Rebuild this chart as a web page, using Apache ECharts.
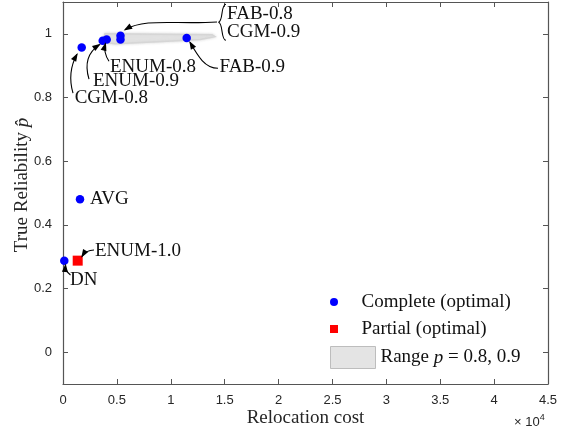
<!DOCTYPE html>
<html>
<head>
<meta charset="utf-8">
<script src="https://cdn.jsdelivr.net/npm/echarts@6/dist/echarts.min.js"></script>
<style>
html, body { margin: 0; padding: 0; background: #fff; }
#chart { width: 568px; height: 439px; }
</style>
</head>
<body>
<div id="chart"></div>
<script>
// data
var completeNames = ['CGM-0.8', 'ENUM-0.9', 'ENUM-0.8', 'FAB-0.8', 'CGM-0.9', 'FAB-0.9', 'AVG', 'DN'];
var completeCost = [1735, 3683, 4055, 5335, 5335, 11477, 1577, 120];
var completeRel = [0.957, 0.978, 0.982, 0.994, 0.982, 0.987, 0.480, 0.2875];

var partialNames = ['ENUM-1.0'];
var partialCost = [1364];
var partialRel = [0.2875];

// outline of the shaded p = 0.8, 0.9 region
var rangeCost = [3897, 13825, 14103, 12711, 8722, 4825, 3711];
var rangeRel = [1.0006, 0.9975, 0.991, 0.982, 0.9755, 0.969, 0.974];

var yTicks = [0, 0.2, 0.4, 0.6, 0.8, 1];

var SERIF = '"Liberation Serif", "Times New Roman", serif';
var SANS = '"Liberation Sans", Arial, sans-serif';
var AXIS = '#555';
var TXT = '#262626';
var RANGE_NAME = 'Range p = 0.8, 0.9';

function zip(a, b, names) {
	var out = [];
	for (var i = 0; i < a.length; i++) {
		var d = { value: [a[i], b[i]] };
		if (names) d.name = names[i];
		out.push(d);
	}
	return out;
}

var chart = echarts.init(document.getElementById('chart'));

var axisLine = { onZero: false, lineStyle: { color: AXIS, width: 1.2 } };
var tickIn = { inside: true, length: 5, lineStyle: { color: AXIS } };

var option = {
	animation: false,
	grid: { left: 63, right: 20, top: 2, bottom: 55, outerBoundsMode: 'none', containLabel: false },
	xAxis: [{
		type: 'value', position: 'bottom', min: 0, max: 45000, interval: 5000,
		axisLine: axisLine, axisTick: tickIn,
		axisLabel: { formatter: function (v) { return String(v / 10000); },
			color: TXT, fontFamily: SANS, fontSize: 13, margin: 10 },
		splitLine: { show: false },
		name: 'Relocation cost', nameLocation: 'middle', nameGap: 25, nameMoveOverlap: false,
		nameTextStyle: { fontFamily: SERIF, fontSize: 19, color: TXT }
	}, {
		type: 'value', position: 'top', min: 0, max: 45000, interval: 5000,
		axisLine: axisLine, axisTick: tickIn, axisLabel: { show: false },
		splitLine: { show: false }
	}],
	yAxis: [{
		type: 'value', position: 'left', min: -0.1, max: 1.1,
		axisLine: axisLine,
		axisTick: { inside: true, length: 5, lineStyle: { color: AXIS }, customValues: yTicks },
		axisLabel: { customValues: yTicks, color: TXT, fontFamily: SANS, fontSize: 13, margin: 11 },
		splitLine: { show: false },
		name: 'True Reliability {i|p\u0302}', nameLocation: 'middle', nameGap: 31, nameMoveOverlap: false,
		nameTextStyle: { fontFamily: SERIF, fontSize: 19, color: TXT, padding: [0, 0, 0, 16],
			rich: { i: { fontFamily: SERIF, fontSize: 19, fontStyle: 'italic', color: TXT } } }
	}, {
		type: 'value', position: 'right', min: -0.1, max: 1.1,
		axisLine: axisLine,
		axisTick: { inside: true, length: 5, lineStyle: { color: AXIS }, customValues: yTicks },
		axisLabel: { show: false },
		splitLine: { show: false }
	}],
	legend: [{
		orient: 'vertical', left: 330, top: 292, padding: 0,
		itemWidth: 45, itemHeight: 8, itemGap: 7, selectedMode: false,
		symbolKeepAspect: true,
		textStyle: { fontFamily: SERIF, fontSize: 19, color: '#111', lineHeight: 20 },
		data: [
			{ name: 'Complete (optimal)', icon: 'circle' },
			{ name: 'Partial (optimal)', icon: 'path://M0,0H10V10H0Z' }
		]
	}, {
		orient: 'vertical', left: 330, top: 346, padding: 0,
		itemWidth: 45, itemHeight: 22, selectedMode: false,
		textStyle: { fontFamily: SERIF, fontSize: 19, color: '#111',
			rich: { i: { fontFamily: SERIF, fontSize: 19, fontStyle: 'italic', color: '#111' } } },
		formatter: function () { return 'Range {i|p} = 0.8, 0.9'; },
		data: [{ name: RANGE_NAME, icon: 'rect', itemStyle: { color: '#e4e4e4', borderColor: '#bdbdbd', borderWidth: 1 } }]
	}],
	series: [{
		name: RANGE_NAME,
		type: 'custom',
		silent: true,
		itemStyle: { color: '#e4e4e4' },
		data: zip(rangeCost, rangeRel),
		renderItem: function (params, api) {
			if (params.dataIndex !== 0) return;
			var pts = [];
			for (var i = 0; i < rangeCost.length; i++) pts.push(api.coord([rangeCost[i], rangeRel[i]]));
			return {
				type: 'polygon',
				shape: { points: pts },
				style: { fill: '#e2e2e2', stroke: '#d6d6d6', lineWidth: 1.5, shadowBlur: 3, shadowColor: '#d8d8d8' }
			};
		}
	}, {
		name: 'Complete (optimal)',
		type: 'scatter',
		symbol: 'circle',
		symbolSize: 8.5,
		itemStyle: { color: '#0000ff', opacity: 1 },
		data: zip(completeCost, completeRel, completeNames)
	}, {
		name: 'Partial (optimal)',
		type: 'scatter',
		symbol: 'rect',
		symbolSize: 10,
		itemStyle: { color: '#ff0000', opacity: 1 },
		data: zip(partialCost, partialRel, partialNames)
	}]
};
chart.setOption(option);

// annotations, placed relative to the pixel position of their point
// tx,ty: text left/middle; c: arrow [start, ctrl1, (ctrl2), end]
var notes = [
	{ n: 'CGM-0.8', tx: -7, ty: 50.7, c: [[-8.7, 45.7], [-14.7, 24.7], [-4.7, 6.7]] },
	{ n: 'ENUM-0.9', tx: -9.7, ty: 40.3, c: [[-13.7, 38.3], [-20.7, 15.3], [-3.2, 3.8]] },
	{ n: 'ENUM-0.8', tx: 3.3, ty: 27.7, c: [[2.3, 21.7], [-3.7, 12.7], [-1.2, 4.2]] },
	{ n: 'FAB-0.9', tx: 32.8, ty: 29.3, c: [[31.3, 30.3], [18.3, 30.3], [11.3, 18.3], [3.3, 4.3]] },
	{ n: 'AVG', tx: 10, ty: 0 },
	{ n: 'DN', tx: 5.7, ty: 19.3, c: [[6.2, 14.3], [0.7, 10.3], [1.2, 4.3]] },
	{ n: 'ENUM-1.0', tx: 17.3, ty: -9.7, c: [[16.3, -10.7], [8.3, -10.7], [4.3, -4.2]] }
];

function pixelOf(name) {
	var i = completeNames.indexOf(name);
	if (i >= 0) return chart.convertToPixel({ xAxisIndex: 0, yAxisIndex: 0 }, [completeCost[i], completeRel[i]]);
	i = partialNames.indexOf(name);
	return chart.convertToPixel({ xAxisIndex: 0, yAxisIndex: 0 }, [partialCost[i], partialRel[i]]);
}

var FONT = '19px ' + SERIF;
var graphics = [];

function addText(x, y, text) {
	graphics.push({ type: 'text', x: x, y: y, z: 10,
		style: { text: text, font: FONT, fill: '#111', align: 'left', verticalAlign: 'middle' } });
}

function addArrow(p, c) {
	var pts = c.map(function (q) { return [p[0] + q[0], p[1] + q[1]]; });
	var shape = { x1: pts[0][0], y1: pts[0][1], x2: pts[pts.length - 1][0], y2: pts[pts.length - 1][1],
		cpx1: pts[1][0], cpy1: pts[1][1] };
	if (pts.length === 4) { shape.cpx2 = pts[2][0]; shape.cpy2 = pts[2][1]; }
	graphics.push({ type: 'bezierCurve', z: 10, shape: shape, style: { stroke: '#000', lineWidth: 1.1, fill: null } });
	var e = pts[pts.length - 1], b = pts[pts.length - 2];
	var dx = e[0] - b[0], dy = e[1] - b[1], L = Math.sqrt(dx * dx + dy * dy);
	dx /= L; dy /= L;
	var len = 7, hw = 3;
	graphics.push({ type: 'polygon', z: 11, shape: { points: [
		[e[0] + dx * 1.5, e[1] + dy * 1.5],
		[e[0] - dx * len - dy * hw, e[1] - dy * len + dx * hw],
		[e[0] - dx * len + dy * hw, e[1] - dy * len - dx * hw]
	] }, style: { fill: '#000' } });
}

notes.forEach(function (a) {
	var p = pixelOf(a.n);
	addText(p[0] + a.tx, p[1] + a.ty, a.n);
	if (a.c) addArrow(p, a.c);
});

// FAB-0.8 and CGM-0.9 share a brace
var pb = pixelOf('FAB-0.8');
addText(pb[0] + 106.5, pb[1] - 21.5, 'FAB-0.8');
addText(pb[0] + 106.5, pb[1] - 3.5, 'CGM-0.9');
var bx = pb[0] + 98, by = pb[1] - 13.5;
graphics.push({ type: 'bezierCurve', z: 10, shape: { x1: bx + 7.5, y1: by - 18, cpx1: bx + 2, cpy1: by - 18, cpx2: bx + 5, cpy2: by - 1, x2: bx, y2: by },
	style: { stroke: '#000', lineWidth: 1.1, fill: null } });
graphics.push({ type: 'bezierCurve', z: 10, shape: { x1: bx, y1: by, cpx1: bx + 5, cpy1: by + 1, cpx2: bx + 2, cpy2: by + 18, x2: bx + 7.5, y2: by + 18 },
	style: { stroke: '#000', lineWidth: 1.1, fill: null } });
addArrow(pb, [[96.5, -13.8], [55, -11], [25, -18], [4.5, -6]]);

// x 10^4 multiplier under the axis
graphics.push({ type: 'text', x: 514, y: 422, z: 10,
	style: { text: '\u00d7 10{s|4}', font: '13px ' + SANS, fill: TXT, verticalAlign: 'middle',
		rich: { s: { fontSize: 9, fontFamily: SANS, fill: TXT, padding: [0, 0, 9, 0] } } } });

chart.setOption({ graphic: graphics });
</script>
</body>
</html>
